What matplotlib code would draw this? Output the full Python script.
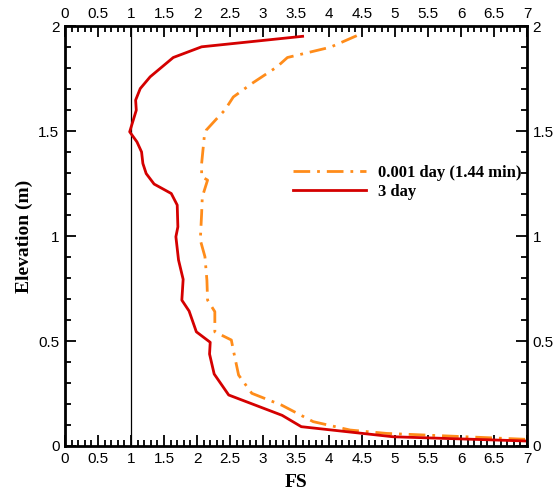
import numpy as np
import matplotlib
matplotlib.use("Agg")
import matplotlib.pyplot as plt
from matplotlib.ticker import MultipleLocator

# FS profiles against elevation
fs_early = [4.42, 4.02, 3.37, 3.21, 2.83, 2.55, 2.42, 2.30, 2.14, 2.11, 2.07, 2.07, 2.16,
            2.08, 2.07, 2.05, 2.12, 2.15, 2.16, 2.27, 2.27, 2.52, 2.55, 2.63, 2.83,
            3.28, 3.76, 4.32, 4.87, 6.97]
elev_early = [1.955, 1.90, 1.851, 1.806, 1.727, 1.663, 1.60, 1.560, 1.505, 1.473, 1.346,
              1.283, 1.267, 1.187, 1.108, 0.981, 0.902, 0.790, 0.695, 0.640, 0.544,
              0.505, 0.457, 0.338, 0.251, 0.195, 0.116, 0.076, 0.060, 0.032]

fs_late = [3.60, 2.07, 1.64, 1.29, 1.14, 1.07, 1.08, 0.98, 1.09, 1.16, 1.18, 1.23, 1.35,
           1.61, 1.70, 1.71, 1.68, 1.72, 1.79, 1.77, 1.88, 1.99, 2.20, 2.19, 2.26,
           2.48, 3.29, 3.58, 4.97, 6.97]
elev_late = [1.952, 1.902, 1.851, 1.759, 1.703, 1.648, 1.600, 1.497, 1.449, 1.401, 1.346,
             1.298, 1.248, 1.203, 1.148, 1.044, 0.997, 0.886, 0.794, 0.695, 0.643,
             0.544, 0.494, 0.438, 0.343, 0.243, 0.146, 0.092, 0.044, 0.024]

labels = ["0.001 day (1.44 min)", "3 day"]

fig = plt.figure(figsize=(5.57, 4.95), dpi=100)
ax = fig.add_axes([0.1167, 0.099, 0.8295, 0.848])

ax.axvline(1.0, color="black", linewidth=0.9)
ax.plot(fs_early, elev_early, color="#ff8c1a", linewidth=2, dashes=(6, 2.5, 1, 2.5),
        label=labels[0])
ax.plot(fs_late, elev_late, color="#d40000", linewidth=2, label=labels[1])

ax.set_xlim(0, 7)
ax.set_ylim(0, 2)
ax.xaxis.set_major_locator(MultipleLocator(0.5))
ax.xaxis.set_minor_locator(MultipleLocator(0.1))
ax.yaxis.set_major_locator(MultipleLocator(0.5))
ax.yaxis.set_minor_locator(MultipleLocator(0.1))
ax.tick_params(which="both", direction="in", top=True, right=True,
               labeltop=True, labelright=True, width=1.3)
ax.tick_params(which="major", length=8, labelsize=11, pad=4)
ax.tick_params(which="minor", length=4)
for lab in ax.get_xticklabels() + ax.get_yticklabels():
    lab.set_family("Liberation Sans")
ax.xaxis.set_major_formatter(plt.FuncFormatter(lambda v, p: f"{v:g}"))
ax.yaxis.set_major_formatter(plt.FuncFormatter(lambda v, p: f"{v:g}"))
for s in ax.spines.values():
    s.set_linewidth(2)

ax.set_xlabel("FS", family="Liberation Serif", fontweight="bold", fontsize=14, labelpad=6)
ax.set_ylabel("Elevation (m)", family="Liberation Serif", fontweight="bold", fontsize=14,
              labelpad=4)

ax.legend(loc="upper left", bbox_to_anchor=(0.46, 0.705), frameon=False,
          prop={"family": "Liberation Serif", "weight": "bold", "size": 12},
          handlelength=4.4, handletextpad=0.7, labelspacing=0.15)

fig.savefig("out.png", dpi=100)
